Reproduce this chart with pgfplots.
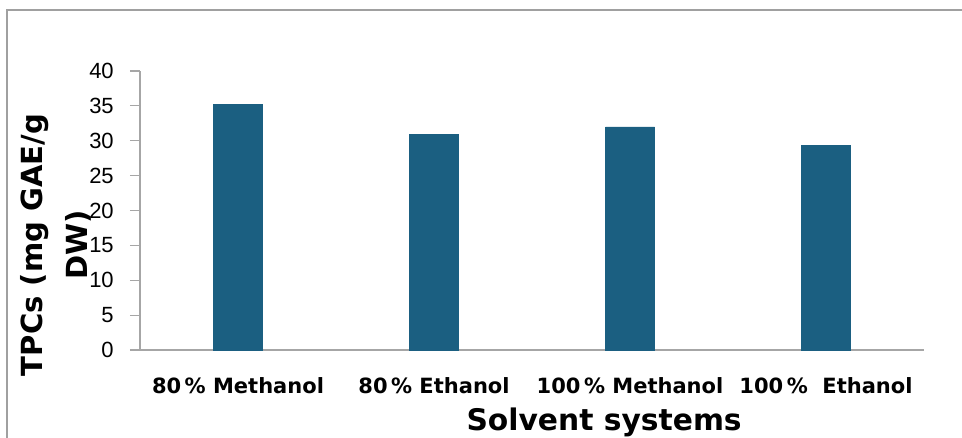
\documentclass[border=0pt]{standalone}
\usepackage{fontspec}
\setmainfont{Liberation Sans}
\newfontfamily\dejavu{DejaVu Sans}
\usepackage{pgfplots}
\pgfplotsset{compat=1.18}

\definecolor{barblue}{RGB}{27,95,129}
\definecolor{axisgray}{RGB}{166,166,166}
\definecolor{framegray}{RGB}{160,160,160}

\begin{document}
\begin{tikzpicture}
  \useasboundingbox (0,0) rectangle (721.5pt,328.5pt);
  % outer frame (left and top only visible)
  \draw[framegray, line width=1pt] (5.25pt,0pt) -- (5.25pt,321pt) -- (721.5pt,321pt);

  \begin{axis}[
      at={(105pt,66pt)}, anchor=south west,
      scale only axis,
      width=588pt, height=209.25pt,
      ybar, bar width=36.75pt,
      xmin=-0.5, xmax=3.5,
      ymin=0, ymax=40, ytick distance=5,
      xtick=data,
      xticklabels={80\,\% Methanol, 80\,\% Ethanol, 100\,\% Methanol, 100\,\%\ \ Ethanol},
      axis x line=bottom, axis y line=left,
      axis line style={-, axisgray, line width=0.9pt},
      tick align=outside,
      major tick length=7.5pt,
      ytick style={axisgray, line width=0.9pt},
      xtick style={draw=none},
      /pgf/number format/assume math mode=true,
      yticklabel style={font=\fontsize{16.5}{18}\selectfont, anchor=east, inner sep=0pt, xshift=-12pt},
      xticklabel style={font=\dejavu\bfseries\fontsize{15.75}{18}\selectfont, anchor=base, yshift=-24.75pt},
      xlabel={Solvent systems},
      xlabel style={font=\dejavu\bfseries\fontsize{22.3}{24}\selectfont,
        at={(axis description cs:0.592,0)}, anchor=base, yshift=-60pt},
      ylabel={TPCs (mg GAE/g\\DW)},
      ylabel style={font=\dejavu\bfseries\fontsize{21.8}{33.75}\selectfont, align=center,
        at={(axis description cs:0,0.376)}, anchor=center, yshift=63pt},
      clip=false,
    ]
    \addplot[fill=barblue, draw=barblue] coordinates {
      (0,35.2) (1,30.9) (2,32.0) (3,29.3)
    };
  \end{axis}
\end{tikzpicture}
\end{document}
